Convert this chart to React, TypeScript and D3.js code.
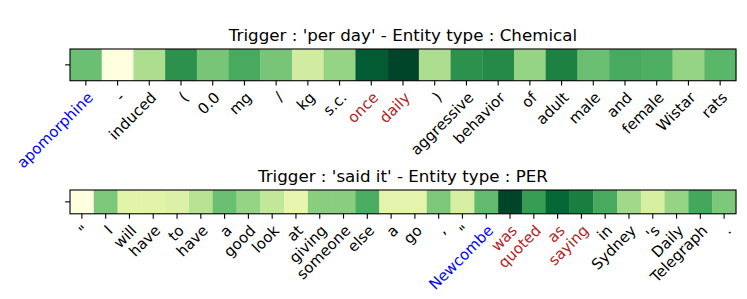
import React from "react";
import * as d3 from "d3";

// top strip
const topTitle = "Trigger : 'per day' - Entity type : Chemical";
const topTokens = ["apomorphine", "-", "induced", "(", "0.0", "mg", "/", "kg", "s.c.", "once", "daily", ")",
  "aggressive", "behavior", "of", "adult", "male", "and", "female", "Wistar", "rats"];
const topScores = [0.53, 0.02, 0.37, 0.71, 0.5, 0.62, 0.5, 0.27, 0.43, 0.92, 1.0, 0.37,
  0.71, 0.74, 0.43, 0.77, 0.53, 0.62, 0.6, 0.43, 0.57];
const topEntity = [0];
const topTrigger = [9, 10];

// bottom strip
const botTitle = "Trigger : 'said it' - Entity type : PER";
const botTokens = ["\"", "I", "will", "have", "to", "have", "a", "good", "look", "at", "giving", "someone",
  "else", "a", "go", ",", "\"", "Newcombe", "was", "quoted", "as", "saying", "in", "Sydney", "'s",
  "Daily", "Telegraph", "."];
const botScores = [0.02, 0.49, 0.21, 0.21, 0.23, 0.34, 0.53, 0.43, 0.31, 0.19, 0.46, 0.46,
  0.61, 0.2, 0.2, 0.49, 0.25, 0.55, 1.0, 0.67, 0.88, 0.78, 0.62, 0.4, 0.25,
  0.43, 0.63, 0.49];
const botEntity = [17];
const botTrigger = [18, 19, 20, 21];

const W = 747;
const H = 299;
const left = 70;
const right = 736;
const font = "DejaVu Sans";

const color = d3.scaleSequential(d3.interpolateYlGn).domain([0, 1]);

const Strip = (props: {
  title: string; tokens: string[]; scores: number[]; entity: number[]; trigger: number[]; top: number;
}) => {
  const x = d3.scaleBand<number>().domain(d3.range(props.tokens.length)).range([left, right]);
  const cell = x.bandwidth();
  const bottom = props.top + cell;
  const mid = props.top + cell / 2;
  const labelColor = (i: number) =>
    props.entity.includes(i) ? "#0000ff" : props.trigger.includes(i) ? "#b22222" : "#000";

  return (
    <g>
      <text x={(left + right) / 2} y={props.top - 8.3} textAnchor="middle" fontFamily={font} fontSize={16.7}>
        {props.title}
      </text>
      {props.scores.map((s, i) => (
        <rect key={i} x={x(i)} y={props.top} width={cell + 0.3} height={cell} fill={color(s)} />
      ))}
      <rect x={left} y={props.top} width={right - left} height={cell} fill="none" stroke="#000" strokeWidth={1.1} />
      <line x1={left - 4.9} x2={left} y1={mid} y2={mid} stroke="#000" strokeWidth={1.1} />
      {props.tokens.map((t, i) => {
        const cx = (x(i) as number) + cell / 2;
        return (
          <g key={i}>
            <line x1={cx} x2={cx} y1={bottom} y2={bottom + 4.9} stroke="#000" strokeWidth={1.1} />
            <text transform={`translate(${cx},${bottom + 9.7}) rotate(-45)`} textAnchor="end" dy="0.76em"
              fontFamily={font} fontSize={15} fill={labelColor(i)}>
              {t}
            </text>
          </g>
        );
      })}
    </g>
  );
};

export default function App() {
  return (
    <svg width={W} height={H} style={{ position: "absolute", left: 0, top: 0, background: "#fff" }}>
      <Strip title={topTitle} tokens={topTokens} scores={topScores} entity={topEntity} trigger={topTrigger} top={49} />
      <Strip title={botTitle} tokens={botTokens} scores={botScores} entity={botEntity} trigger={botTrigger} top={190} />
    </svg>
  );
}
